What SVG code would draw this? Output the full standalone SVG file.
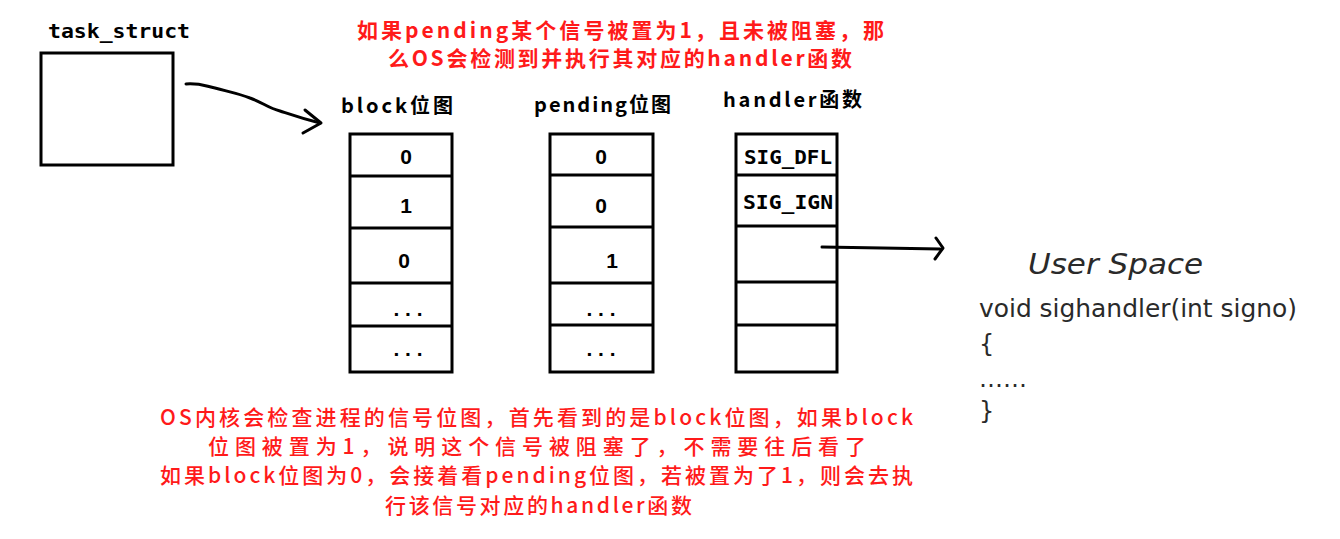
<svg xmlns="http://www.w3.org/2000/svg" width="1340" height="539" viewBox="0 0 1340 539">
<style>
.box{fill:#fff;stroke:#000;stroke-width:3}
.sep{stroke:#000;stroke-width:3}
.lbl{font-family:"Noto Sans CJK SC","Liberation Sans",sans-serif;font-weight:bold;font-size:20px;fill:#000}
.mono{font-family:"DejaVu Sans Mono","Liberation Mono",monospace;font-weight:bold;fill:#000}
.cell{font-family:"Liberation Sans","DejaVu Sans",sans-serif;font-weight:bold;font-size:21px;fill:#000;text-anchor:middle}
.redb{font-family:"Noto Sans CJK SC","Liberation Sans",sans-serif;font-weight:bold;font-size:21px;fill:#ff1a1a}
.red{font-family:"Noto Sans CJK SC","Liberation Sans",sans-serif;font-weight:500;font-size:21px;fill:#ff1a1a}
.us{font-family:"DejaVu Sans",sans-serif;fill:#2a2a2a}
.ink{fill:none;stroke:#000;stroke-width:3;stroke-linecap:round;stroke-linejoin:round}
</style>
<rect width="1340" height="539" fill="#fff"/>

<g id="task_struct">
<text class="mono" x="48" y="38" font-size="20" textLength="142" lengthAdjust="spacingAndGlyphs">task_struct</text>
<rect class="box" x="41" y="53" width="132" height="112"/>
</g>

<g id="top_note">
<text class="redb" x="357" y="38" textLength="527" lengthAdjust="spacing">如果pending某个信号被置为1，且未被阻塞，那</text>
<text class="redb" x="388" y="66" textLength="464" lengthAdjust="spacing">么OS会检测到并执行其对应的handler函数</text>
</g>

<g id="block">
<text class="lbl" x="341" y="113" textLength="112" lengthAdjust="spacing">block位图</text>
<rect class="box" x="350" y="134" width="102" height="238"/>
<line class="sep" x1="350" y1="176" x2="452" y2="176"/>
<line class="sep" x1="350" y1="228" x2="452" y2="228"/>
<line class="sep" x1="350" y1="283" x2="452" y2="283"/>
<line class="sep" x1="350" y1="326" x2="452" y2="326"/>
<text class="cell" x="406" y="164">0</text>
<text class="cell" x="406" y="213">1</text>
<text class="cell" x="404" y="268">0</text>
<text class="cell" x="408" y="316">. . .</text>
<text class="cell" x="408" y="356">. . .</text>
</g>

<g id="pending">
<text class="lbl" x="534" y="112" textLength="137" lengthAdjust="spacing">pending位图</text>
<rect class="box" x="550" y="134" width="103" height="238"/>
<line class="sep" x1="550" y1="175" x2="653" y2="175"/>
<line class="sep" x1="550" y1="227" x2="653" y2="227"/>
<line class="sep" x1="550" y1="283" x2="653" y2="283"/>
<line class="sep" x1="550" y1="325" x2="653" y2="325"/>
<text class="cell" x="601" y="164">0</text>
<text class="cell" x="601" y="213">0</text>
<text class="cell" x="612" y="268">1</text>
<text class="cell" x="601" y="316">. . .</text>
<text class="cell" x="601" y="356">. . .</text>
</g>

<g id="handler">
<text class="lbl" x="723" y="107" textLength="139" lengthAdjust="spacing">handler函数</text>
<rect class="box" x="736" y="134" width="101" height="238"/>
<line class="sep" x1="736" y1="175" x2="837" y2="175"/>
<line class="sep" x1="736" y1="226" x2="837" y2="226"/>
<line class="sep" x1="736" y1="282" x2="837" y2="282"/>
<line class="sep" x1="736" y1="325" x2="837" y2="325"/>
<text class="mono" x="744" y="164" font-size="19" textLength="88" lengthAdjust="spacingAndGlyphs">SIG_DFL</text>
<text class="mono" x="743" y="209" font-size="19" textLength="90" lengthAdjust="spacingAndGlyphs">SIG_IGN</text>
</g>

<g id="connectors">
<path class="ink" d="M186 84 C200 83 205 86 215 88 C230 92 240 94 250 98 C262 102 268 108 280 111 C292 115 300 118 320 123"/>
<path class="ink" d="M305 110 L321 123 L303 133"/>
<path class="ink" d="M822 247 L882 248 L940 249"/>
<path class="ink" d="M936 238 L943 248 L935 259"/>
</g>

<g id="user_space">
<text class="us" x="1028" y="274" font-size="28" font-style="italic" textLength="175" lengthAdjust="spacingAndGlyphs">User Space</text>
<text class="us" x="979" y="317" font-size="24" textLength="318" lengthAdjust="spacingAndGlyphs">void sighandler(int signo)</text>
<text class="us" x="979" y="352" font-size="24">{</text>
<text class="us" x="979" y="387" font-size="24">……</text>
<text class="us" x="979" y="419" font-size="24">}</text>
</g>

<g id="bottom_note">
<text class="red" x="160" y="425" textLength="753" lengthAdjust="spacing">OS内核会检查进程的信号位图，首先看到的是block位图，如果block</text>
<text class="red" x="208" y="454" textLength="658" lengthAdjust="spacing">位图被置为1，说明这个信号被阻塞了，不需要往后看了</text>
<text class="red" x="160" y="483" textLength="753" lengthAdjust="spacing">如果block位图为0，会接着看pending位图，若被置为了1，则会去执</text>
<text class="red" x="385" y="513" textLength="307" lengthAdjust="spacing">行该信号对应的handler函数</text>
</g>
</svg>
